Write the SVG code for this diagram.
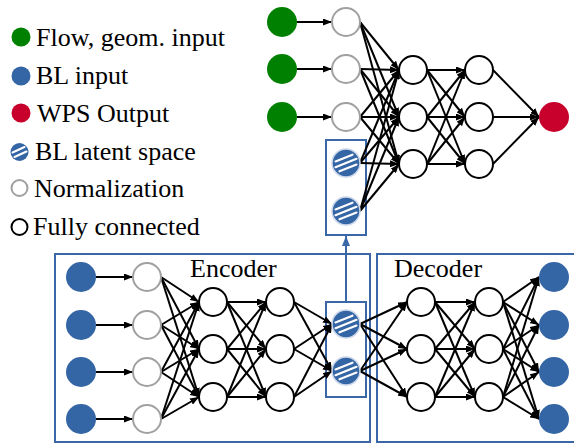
<svg xmlns="http://www.w3.org/2000/svg" xmlns:xlink="http://www.w3.org/1999/xlink" width="574" height="444" viewBox="0 0 574 444">
<style>
.t{font-family:"Liberation Serif","Times New Roman",serif;font-size:26px;fill:#000}
.c{stroke:#000;stroke-width:2;fill:none;marker-end:url(#ah)}
.fc{fill:#fff;stroke:#000;stroke-width:2}
.nm{fill:#fff;stroke:#a0a0a0;stroke-width:2}
.gr{fill:#008000}
.bl{fill:#3465a4}
.rd{fill:#c8002c}
.box{fill:none;stroke:#3a67a8;stroke-width:2}
</style>
<defs>
<marker id="ah" markerUnits="userSpaceOnUse" markerWidth="9" markerHeight="7" refX="9" refY="3.5" orient="auto"><path d="M0,0 L9,3.5 L0,7 z" fill="#000"/></marker>
<marker id="ahb" markerUnits="userSpaceOnUse" markerWidth="10" markerHeight="8" refX="10" refY="4" orient="auto"><path d="M0,0 L10,4 L0,8 z" fill="#3a67a8"/></marker>
<g id="lat">
<circle r="14" fill="#3465a4" stroke="#cdd8ea" stroke-width="1.5"/>
<g stroke="#fff" stroke-width="2.2" stroke-linecap="round">
<line x1="-10.5" y1="-1.6" x2="6.5" y2="-8.3"/>
<line x1="-10.5" y1="4.2" x2="10.5" y2="-4.2"/>
<line x1="-6.5" y1="8.3" x2="10.5" y2="1.6"/>
</g>
</g>
</defs>

<g id="legend">
<circle class="gr" cx="21" cy="37" r="9.5"/>
<text class="t" x="36" y="46">Flow, geom. input</text>
<circle class="bl" cx="21" cy="76" r="9.5"/>
<text class="t" x="36" y="84">BL input</text>
<circle class="rd" cx="21" cy="113" r="9.5"/>
<text class="t" x="37" y="122">WPS Output</text>
<g transform="translate(19.5,152)">
<circle r="9" fill="#3465a4"/>
<g stroke="#fff" stroke-width="2" stroke-linecap="round">
<line x1="-7" y1="0.5" x2="5" y2="-5"/>
<line x1="-5" y1="5" x2="7" y2="-0.5"/>
</g>
</g>
<text class="t" x="35" y="160">BL latent space</text>
<circle class="nm" cx="19.5" cy="188" r="8"/>
<text class="t" x="34" y="197">Normalization</text>
<circle class="fc" cx="19.5" cy="227" r="8"/>
<text class="t" x="33" y="235">Fully connected</text>
</g>

<g id="boxes">
<rect class="box" x="55" y="254" width="315" height="188"/>
<rect class="box" x="377" y="254" width="200" height="188"/>
<rect class="box" x="326" y="140" width="40" height="95"/>
<rect class="box" x="326" y="302" width="40" height="95"/>
<text class="t" x="190" y="277">Encoder</text>
<text class="t" x="394" y="277">Decoder</text>
</g>

<g id="connectors">
<!-- top: inputs to norm -->
<line class="c" x1="297" y1="22" x2="332" y2="22"/>
<line class="c" x1="297" y1="69" x2="332" y2="69"/>
<line class="c" x1="297" y1="117" x2="332" y2="117"/>
<!-- top: norm/latent to H1 -->
<path class="c" d="M360,22 L399,70"/><path class="c" d="M360,22 L399,117"/><path class="c" d="M360,22 L399,164"/>
<path class="c" d="M360,69 L399,70"/><path class="c" d="M360,69 L399,117"/><path class="c" d="M360,69 L399,164"/>
<path class="c" d="M360,117 L399,70"/><path class="c" d="M360,117 L399,117"/><path class="c" d="M360,117 L399,164"/>
<path class="c" d="M360,163 L399,70"/><path class="c" d="M360,163 L399,117"/><path class="c" d="M360,163 L399,164"/>
<path class="c" d="M360,211 L399,70"/><path class="c" d="M360,211 L399,117"/><path class="c" d="M360,211 L399,164"/>
<!-- top: H1 to H2 -->
<path class="c" d="M427,70 L465,70"/><path class="c" d="M427,70 L465,117"/><path class="c" d="M427,70 L465,164"/>
<path class="c" d="M427,117 L465,70"/><path class="c" d="M427,117 L465,117"/><path class="c" d="M427,117 L465,164"/>
<path class="c" d="M427,164 L465,70"/><path class="c" d="M427,164 L465,117"/><path class="c" d="M427,164 L465,164"/>
<!-- top: H2 to out -->
<path class="c" d="M493,70 L539,117"/><path class="c" d="M493,117 L539,117"/><path class="c" d="M493,164 L539,117"/>

<!-- encoder: inputs to norm -->
<line class="c" x1="96" y1="277" x2="133" y2="277"/>
<line class="c" x1="96" y1="325" x2="133" y2="325"/>
<line class="c" x1="96" y1="372" x2="133" y2="372"/>
<line class="c" x1="96" y1="419" x2="133" y2="419"/>
<!-- norm to H1 -->
<path class="c" d="M161,277 L199,302"/><path class="c" d="M161,277 L199,349"/><path class="c" d="M161,277 L199,397"/>
<path class="c" d="M161,325 L199,302"/><path class="c" d="M161,325 L199,349"/><path class="c" d="M161,325 L199,397"/>
<path class="c" d="M161,372 L199,302"/><path class="c" d="M161,372 L199,349"/><path class="c" d="M161,372 L199,397"/>
<path class="c" d="M161,419 L199,302"/><path class="c" d="M161,419 L199,349"/><path class="c" d="M161,419 L199,397"/>
<!-- H1 to H2 -->
<path class="c" d="M227,302 L266,302"/><path class="c" d="M227,302 L266,349"/><path class="c" d="M227,302 L266,397"/>
<path class="c" d="M227,349 L266,302"/><path class="c" d="M227,349 L266,349"/><path class="c" d="M227,349 L266,397"/>
<path class="c" d="M227,397 L266,302"/><path class="c" d="M227,397 L266,349"/><path class="c" d="M227,397 L266,397"/>
<!-- H2 to latent -->
<path class="c" d="M294,302 L332,324"/><path class="c" d="M294,302 L332,371"/>
<path class="c" d="M294,349 L332,324"/><path class="c" d="M294,349 L332,371"/>
<path class="c" d="M294,397 L332,324"/><path class="c" d="M294,397 L332,371"/>
<!-- latent to decoder H1 -->
<path class="c" d="M360,324 L407,302"/><path class="c" d="M360,324 L407,349"/><path class="c" d="M360,324 L407,397"/>
<path class="c" d="M360,371 L407,302"/><path class="c" d="M360,371 L407,349"/><path class="c" d="M360,371 L407,397"/>
<!-- decoder H1 to H2 -->
<path class="c" d="M435,302 L475,302"/><path class="c" d="M435,302 L475,349"/><path class="c" d="M435,302 L475,397"/>
<path class="c" d="M435,349 L475,302"/><path class="c" d="M435,349 L475,349"/><path class="c" d="M435,349 L475,397"/>
<path class="c" d="M435,397 L475,302"/><path class="c" d="M435,397 L475,349"/><path class="c" d="M435,397 L475,397"/>
<!-- decoder H2 to outputs -->
<path class="c" d="M503,302 L539,277"/><path class="c" d="M503,302 L539,325"/><path class="c" d="M503,302 L539,372"/><path class="c" d="M503,302 L539,419"/>
<path class="c" d="M503,349 L539,277"/><path class="c" d="M503,349 L539,325"/><path class="c" d="M503,349 L539,372"/><path class="c" d="M503,349 L539,419"/>
<path class="c" d="M503,397 L539,277"/><path class="c" d="M503,397 L539,325"/><path class="c" d="M503,397 L539,372"/><path class="c" d="M503,397 L539,419"/>
<!-- latent up arrow -->
<line x1="346" y1="302" x2="346" y2="236" stroke="#3a67a8" stroke-width="2" marker-end="url(#ahb)"/>
</g>

<g id="top-inputs">
<circle class="gr" cx="282" cy="22" r="15"/>
<circle class="gr" cx="282" cy="69" r="15"/>
<circle class="gr" cx="282" cy="117" r="15"/>
</g>
<g id="top-norm">
<circle class="nm" cx="346" cy="22" r="14"/>
<circle class="nm" cx="346" cy="69" r="14"/>
<circle class="nm" cx="346" cy="117" r="14"/>
</g>
<g id="top-latent">
<use xlink:href="#lat" x="346" y="163"/>
<use xlink:href="#lat" x="346" y="211"/>
</g>
<g id="top-h1">
<circle class="fc" cx="413" cy="70" r="14"/>
<circle class="fc" cx="413" cy="117" r="14"/>
<circle class="fc" cx="413" cy="164" r="14"/>
</g>
<g id="top-h2">
<circle class="fc" cx="479" cy="70" r="14"/>
<circle class="fc" cx="479" cy="117" r="14"/>
<circle class="fc" cx="479" cy="164" r="14"/>
</g>
<g id="top-out">
<circle class="rd" cx="554" cy="117" r="15"/>
</g>

<g id="enc-inputs">
<circle class="bl" cx="81" cy="277" r="15"/>
<circle class="bl" cx="81" cy="325" r="15"/>
<circle class="bl" cx="81" cy="372" r="15"/>
<circle class="bl" cx="81" cy="419" r="15"/>
</g>
<g id="enc-norm">
<circle class="nm" cx="147" cy="277" r="14"/>
<circle class="nm" cx="147" cy="325" r="14"/>
<circle class="nm" cx="147" cy="372" r="14"/>
<circle class="nm" cx="147" cy="419" r="14"/>
</g>
<g id="enc-h1">
<circle class="fc" cx="213" cy="302" r="14"/>
<circle class="fc" cx="213" cy="349" r="14"/>
<circle class="fc" cx="213" cy="397" r="14"/>
</g>
<g id="enc-h2">
<circle class="fc" cx="280" cy="302" r="14"/>
<circle class="fc" cx="280" cy="349" r="14"/>
<circle class="fc" cx="280" cy="397" r="14"/>
</g>
<g id="enc-latent">
<use xlink:href="#lat" x="346" y="324"/>
<use xlink:href="#lat" x="346" y="371"/>
</g>
<g id="dec-h1">
<circle class="fc" cx="421" cy="302" r="14"/>
<circle class="fc" cx="421" cy="349" r="14"/>
<circle class="fc" cx="421" cy="397" r="14"/>
</g>
<g id="dec-h2">
<circle class="fc" cx="489" cy="302" r="14"/>
<circle class="fc" cx="489" cy="349" r="14"/>
<circle class="fc" cx="489" cy="397" r="14"/>
</g>
<g id="dec-out">
<circle class="bl" cx="554" cy="277" r="15"/>
<circle class="bl" cx="554" cy="325" r="15"/>
<circle class="bl" cx="554" cy="372" r="15"/>
<circle class="bl" cx="554" cy="419" r="15"/>
</g>
</svg>
